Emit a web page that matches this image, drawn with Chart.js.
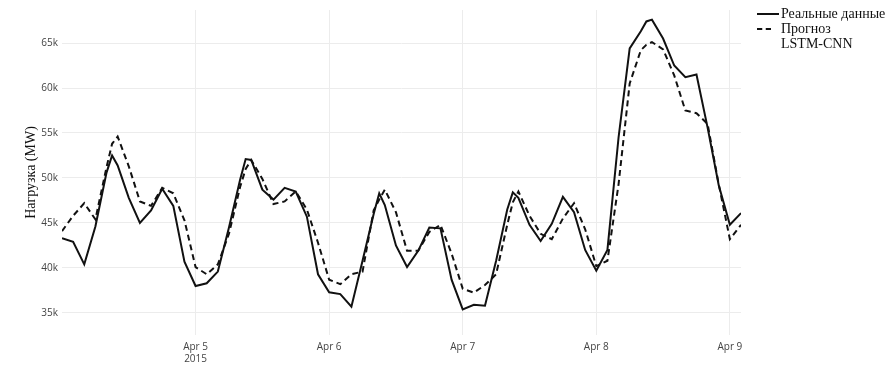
<!DOCTYPE html>
<html>
<head>
<meta charset="utf-8">
<script src="https://cdn.jsdelivr.net/npm/chart.js@4"></script>
<style>
  body { margin: 0; background: #fff; }
  .wrap { position: relative; width: 893px; height: 376px; }
  .legend { position: absolute; left: 757px; top: 6px; font-family: "Liberation Serif", serif; font-size: 14px; color: #111; line-height: 15px; }
  .legend div { position: relative; padding-left: 24px; }
  .legend .swatch { position: absolute; left: 0; top: 7px; width: 22px; height: 0; border-top: 2px solid #111; }
  .legend .swatch.dash { border-top: 2px dashed #111; width: 14px; }
</style>
</head>
<body>
<div class="wrap">
  <canvas id="chart" width="893" height="376"></canvas>
  <div class="legend">
    <div><span class="swatch"></span>Реальные данные</div>
    <div><span class="swatch dash"></span>Прогноз<br>LSTM-CNN</div>
  </div>
</div>
<script>
// hours since Apr 4 2015 00:00 (extra points near the peaks)
const hours = [0, 2, 4, 6, 8, 9, 10, 12, 14, 16, 18, 20, 22, 24, 26, 28, 30, 32, 33, 34, 36, 38,
  40, 42, 44, 46, 48, 50, 52, 54, 56, 57, 58, 60, 62, 64, 66, 68, 70, 72, 74, 76, 78,
  80, 81, 82, 84, 86, 88, 90, 92, 94, 96, 98, 100, 102, 104, 105, 106, 108, 110, 112, 114, 116, 118,
  120, 122];

// real load, MW
const realLoad = [43300, 42900, 40400, 44600, 50600, 52500, 51400, 47800, 45000, 46400, 48800,
  46900, 40700, 38000, 38300, 39600, 44500, 49800, 52100, 52000, 48700, 47600,
  48900, 48500, 45700, 39300, 37300, 37100, 35700, 40800, 46000, 48300, 47000,
  42500, 40100, 41900, 44500, 44400, 38700, 35400, 35900, 35800, 40800,
  46500, 48400, 47800, 44800, 43000, 44900, 47900, 46200, 42000, 39700, 42000,
  54500, 64400, 66300, 67400, 67600, 65500, 62500, 61200, 61500, 55600, 49200,
  44800, 46100];

// LSTM-CNN forecast, MW
const forecastLoad = [44100, 45800, 47200, 45400, 51200, 53800, 54600, 51300, 47400, 46900, 48900,
  48300, 45300, 40100, 39300, 40400, 43800, 49000, 51000, 52000, 49900, 47100,
  47400, 48500, 46500, 42800, 38700, 38200, 39300, 39600, 46400, 47600, 48700,
  46200, 41900, 41900, 44000, 44800, 41600, 37700, 37250, 38100, 39300,
  44800, 47300, 48500, 45800, 43800, 43200, 45500, 47200, 44300, 40200, 40800,
  49300, 60500, 64200, 64800, 65100, 64300, 61400, 57500, 57200, 56000, 49300,
  43200, 44800];

const xTickPositions = [24, 48, 72, 96, 120];
const xTickLabels = [['Apr 5', '2015'], 'Apr 6', 'Apr 7', 'Apr 8', 'Apr 9'];
const yTicks = [35000, 40000, 45000, 50000, 55000, 60000, 65000];

const tickFont = { family: 'Open Sans', size: 10 };

new Chart(document.getElementById('chart'), {
  type: 'line',
  data: {
    datasets: [{
      label: 'Реальные данные',
      data: hours.map((h, i) => ({ x: h, y: realLoad[i] })),
      borderColor: '#111',
      borderWidth: 2,
      pointRadius: 0,
      tension: 0
    }, {
      label: 'Прогноз LSTM-CNN',
      data: hours.map((h, i) => ({ x: h, y: forecastLoad[i] })),
      borderColor: '#111',
      borderWidth: 2,
      borderDash: [6, 4],
      pointRadius: 0,
      tension: 0
    }]
  },
  options: {
    responsive: false,
    animation: false,
    layout: { padding: { top: 7, right: 152, left: 0, bottom: 0 } },
    plugins: {
      legend: { display: false },
      tooltip: { enabled: false }
    },
    scales: {
      x: {
        type: 'linear',
        min: 0,
        max: 122,
        afterBuildTicks: (scale) => { scale.ticks = xTickPositions.map(v => ({ value: v })); },
        afterFit: (scale) => { scale.height = 41; },
        border: { display: false },
        grid: { color: '#ececec', drawTicks: false },
        ticks: {
          color: '#444',
          font: tickFont,
          padding: 6,
          maxRotation: 0,
          callback: (v) => xTickLabels[xTickPositions.indexOf(v)]
        }
      },
      y: {
        min: 32550,
        max: 68670,
        afterBuildTicks: (scale) => { scale.ticks = yTicks.map(v => ({ value: v })); },
        afterFit: (scale) => { scale.width = 62; },
        border: { display: false },
        grid: { color: '#ececec', drawTicks: false },
        ticks: {
          color: '#444',
          font: tickFont,
          padding: 4,
          callback: (v) => (v / 1000) + 'k'
        },
        title: {
          display: true,
          text: 'Нагрузка (MW)',
          color: '#111',
          font: { family: 'Liberation Serif', size: 14 },
          padding: { top: 23, bottom: 0 }
        }
      }
    }
  }
});
</script>
</body>
</html>
